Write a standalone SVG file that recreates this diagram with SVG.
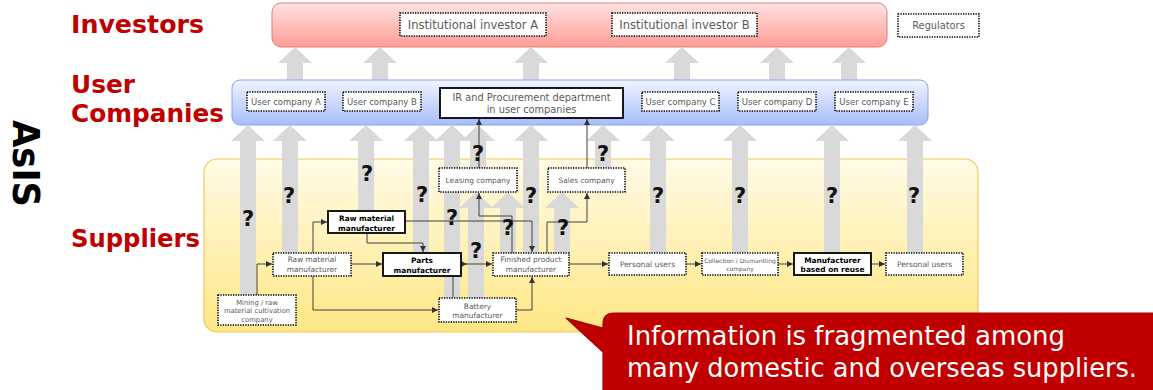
<svg xmlns="http://www.w3.org/2000/svg" width="1153" height="390" viewBox="0 0 1153 390">
  <defs>
    <linearGradient id="gInv" x1="0" y1="0" x2="0" y2="1">
      <stop offset="0" stop-color="#ffe3e2"/>
      <stop offset="1" stop-color="#ff9c96"/>
    </linearGradient>
    <linearGradient id="gUser" x1="0" y1="0" x2="0" y2="1">
      <stop offset="0" stop-color="#f1f4ff"/>
      <stop offset="1" stop-color="#a7bdfb"/>
    </linearGradient>
    <linearGradient id="gSup" x1="0" y1="0" x2="0" y2="1">
      <stop offset="0" stop-color="#fffbe6"/>
      <stop offset="1" stop-color="#ffe785"/>
    </linearGradient>
    <marker id="ah" viewBox="0 0 6 6" refX="6" refY="3" markerWidth="6" markerHeight="6" markerUnits="userSpaceOnUse" orient="auto">
      <path d="M0,0 L6,3 L0,6 Z" fill="#333"/>
    </marker>
  </defs>
  <style>
    .tier { font-family: "DejaVu Sans", sans-serif; font-weight: bold; font-size: 24px; fill: #c00000; }
    .gray { fill: #d9d9d9; }
    .dot { fill: #ffffff; stroke: #000; stroke-width: 1.6; stroke-dasharray: 1.3 1.2; }
    .solid { fill: #ffffff; stroke: #000; stroke-width: 1.8; }
    .t { font-family: "DejaVu Sans", sans-serif; text-anchor: middle; fill: #595959; }
    .tb { font-family: "DejaVu Sans", sans-serif; text-anchor: middle; fill: #000; font-weight: bold; }
    .q { font-family: "DejaVu Sans", sans-serif; font-weight: bold; font-size: 21px; text-anchor: middle; fill: #111; }
    .conn { fill: none; stroke: #404040; stroke-width: 1; marker-end: url(#ah); }
    .call { font-family: "DejaVu Sans", sans-serif; font-size: 26px; fill: #ffffff; }
  </style>

  <!-- tier labels -->
  <g id="labels">
    <text class="tier" x="71" y="33" textLength="133" lengthAdjust="spacingAndGlyphs">Investors</text>
    <text class="tier" x="71" y="93" textLength="64" lengthAdjust="spacingAndGlyphs">User</text>
    <text class="tier" x="71" y="121.5" textLength="153" lengthAdjust="spacingAndGlyphs">Companies</text>
    <text class="tier" x="71" y="247" textLength="129" lengthAdjust="spacingAndGlyphs">Suppliers</text>
    <text transform="translate(13,120) rotate(90)" font-family="DejaVu Sans, sans-serif" font-weight="bold" font-size="38" fill="#000" textLength="87" lengthAdjust="spacingAndGlyphs">AsIS</text>
  </g>

  <!-- tier bands -->
  <g id="bands">
    <rect x="272" y="3" width="615" height="44" rx="9" fill="url(#gInv)" stroke="#e0807a" stroke-width="1"/>
    <rect x="204" y="159" width="774" height="173" rx="13" fill="url(#gSup)" stroke="#f0c85a" stroke-width="1.2"/>
  </g>

  <!-- gray flow arrows: user companies to investors -->
  <g id="flows-top">
    <path class="gray" d="M287,82 V63 H278 L295,47 L312,63 H303 V82 Z"/>
    <path class="gray" d="M372,82 V63 H363 L380,47 L397,63 H388 V82 Z"/>
    <path class="gray" d="M523,82 V63 H514 L531,47 L548,63 H539 V82 Z"/>
    <path class="gray" d="M674,82 V63 H665 L682,47 L699,63 H690 V82 Z"/>
    <path class="gray" d="M769,82 V63 H760 L777,47 L794,63 H785 V82 Z"/>
    <path class="gray" d="M841,82 V63 H832 L849,47 L866,63 H857 V82 Z"/>
  </g>

  <rect id="user-band" x="232" y="80" width="696" height="45" rx="8" fill="url(#gUser)" stroke="#8aa4e6" stroke-width="1"/>

  <!-- gray flow arrows: suppliers to user companies and to sales channels -->
  <g id="flows-sup">
    <path class="gray" d="M240,297 V141 H231 L248,125 L265,141 H256 V297 Z"/>
    <path class="gray" d="M282,255 V141 H273 L290,125 L307,141 H298 V255 Z"/>
    <path class="gray" d="M358,213 V141 H349 L366,125 L383,141 H374 V213 Z"/>
    <path class="gray" d="M413,255 V141 H404 L421,125 L438,141 H429 V255 Z"/>
    <path class="gray" d="M444,300 V141 H435 L452,125 L469,141 H460 V300 Z"/>
    <path class="gray" d="M470,170 V141 H461 L478,125 L495,141 H486 V170 Z"/>
    <path class="gray" d="M523,255 V141 H514 L531,125 L548,141 H539 V255 Z"/>
    <path class="gray" d="M595,170 V141 H586 L603,125 L620,141 H611 V170 Z"/>
    <path class="gray" d="M650,255 V141 H641 L658,125 L675,141 H666 V255 Z"/>
    <path class="gray" d="M732,255 V141 H723 L740,125 L757,141 H748 V255 Z"/>
    <path class="gray" d="M824,255 V141 H815 L832,125 L849,141 H840 V255 Z"/>
    <path class="gray" d="M907,255 V141 H898 L915,125 L932,141 H923 V255 Z"/>
    <path class="gray" d="M468,300 V208 H459 L476,192 L493,208 H484 V300 Z"/>
    <path class="gray" d="M500,255 V208 H491 L508,192 L525,208 H516 V255 Z"/>
    <path class="gray" d="M554,255 V208 H545 L562,192 L579,208 H570 V255 Z"/>
  </g>

  <!-- thin connectors -->
  <g id="connectors">
    <path class="conn" d="M257,295 V264 H272"/>
    <path class="conn" d="M313,253 V222 H327"/>
    <path class="conn" d="M313,276 V310 H438"/>
    <path class="conn" d="M351,264 H382"/>
    <path class="conn" d="M367,233 V243 H423 V252"/>
    <path class="conn" d="M405,221 H532 V252"/>
    <path class="conn" d="M453,297 V264 H467"/>
    <path class="conn" d="M461,264 H492"/>
    <path class="conn" d="M516,310 H532 V277"/>
    <path class="conn" d="M512,253 V216 H479 V193"/>
    <path class="conn" d="M547,253 V222 H587 V193"/>
    <path class="conn" d="M479,168 V119"/>
    <path class="conn" d="M587,168 V119"/>
    <path class="conn" d="M569,264 H608"/>
    <path class="conn" d="M665,264 H701"/>
    <path class="conn" d="M778,264 H793"/>
    <path class="conn" d="M871,264 H885"/>
  </g>

  <!-- investors -->
  <g id="inst-a"><rect class="dot" x="400" y="13" width="146" height="23"/><text class="t" x="473" y="28.5" font-size="11.5" fill="#404040">Institutional investor A</text></g>
  <g id="inst-b"><rect class="dot" x="612" y="13" width="145" height="23"/><text class="t" x="684.5" y="28.5" font-size="11.5" fill="#404040">Institutional investor B</text></g>
  <g id="regulators"><rect class="dot" x="898" y="14" width="81" height="23"/><text class="t" x="938.5" y="29" font-size="9.8" fill="#404040">Regulators</text></g>

  <!-- user companies -->
  <g id="user-a"><rect class="dot" x="247" y="92" width="78" height="19"/><text class="t" x="286" y="104.5" font-size="8.5">User company A</text></g>
  <g id="user-b"><rect class="dot" x="343" y="92" width="78" height="19"/><text class="t" x="382" y="104.5" font-size="8.5">User company B</text></g>
  <g id="ir-dept"><rect class="solid" x="440" y="88" width="183" height="30" stroke-width="1.4"/>
    <text class="t" x="531.5" y="101" font-size="9.8" fill="#333">IR and Procurement department</text>
    <text class="t" x="531.5" y="113" font-size="9.8" fill="#333">in user companies</text></g>
  <g id="user-c"><rect class="dot" x="642" y="92" width="77" height="19"/><text class="t" x="680.5" y="104.5" font-size="8.5">User company C</text></g>
  <g id="user-d"><rect class="dot" x="738" y="92" width="78" height="19"/><text class="t" x="777" y="104.5" font-size="8.5">User company D</text></g>
  <g id="user-e"><rect class="dot" x="835" y="92" width="78" height="19"/><text class="t" x="874" y="104.5" font-size="8.5">User company E</text></g>

  <!-- suppliers -->
  <g id="leasing"><rect class="dot" x="439" y="168" width="78" height="24"/><text class="t" x="478" y="183" font-size="7.4">Leasing company</text></g>
  <g id="sales"><rect class="dot" x="548" y="168" width="77" height="24"/><text class="t" x="586.5" y="183" font-size="7.4">Sales company</text></g>
  <g id="raw-bold"><rect class="solid" x="328" y="211" width="77" height="22"/>
    <text class="tb" x="366.5" y="221" font-size="7.4">Raw material</text>
    <text class="tb" x="366.5" y="230.5" font-size="7.4">manufacturer</text></g>
  <g id="raw-dotted"><rect class="dot" x="273" y="253" width="78" height="23"/>
    <text class="t" x="312" y="262" font-size="7.4">Raw material</text>
    <text class="t" x="312" y="272" font-size="7.4">manufacturer</text></g>
  <g id="parts"><rect class="solid" x="383" y="253" width="78" height="23" stroke-width="2"/>
    <text class="tb" x="422" y="262.5" font-size="7.4">Parts</text>
    <text class="tb" x="422" y="272.5" font-size="7.4">manufacturer</text></g>
  <g id="finished"><rect class="dot" x="493" y="253" width="76" height="23"/>
    <text class="t" x="531" y="262" font-size="7.4">Finished product</text>
    <text class="t" x="531" y="272" font-size="7.4">manufacturer</text></g>
  <g id="battery"><rect class="dot" x="439" y="298" width="77" height="24"/>
    <text class="t" x="477.5" y="308.5" font-size="7.4">Battery</text>
    <text class="t" x="477.5" y="318" font-size="7.4">manufacturer</text></g>
  <g id="mining"><rect class="dot" x="218" y="295" width="78" height="30"/>
    <text class="t" x="257" y="304.5" font-size="6.8">Mining / raw</text>
    <text class="t" x="257" y="313" font-size="6.8">material cultivation</text>
    <text class="t" x="257" y="321.5" font-size="6.8">company</text></g>
  <g id="personal-1"><rect class="dot" x="609" y="253" width="77" height="22"/><text class="t" x="647.5" y="267" font-size="7.6">Personal users</text></g>
  <g id="collection"><rect class="dot" x="702" y="253" width="76" height="22"/>
    <text class="t" x="740" y="262.5" font-size="6">Collection / Dismantling</text>
    <text class="t" x="740" y="270.5" font-size="6">company</text></g>
  <g id="reuse"><rect class="solid" x="794" y="253" width="77" height="22" stroke-width="2"/>
    <text class="tb" x="832.5" y="262.5" font-size="7.4">Manufacturer</text>
    <text class="tb" x="832.5" y="272" font-size="7.4">based on reuse</text></g>
  <g id="personal-2"><rect class="dot" x="886" y="253" width="77" height="22"/><text class="t" x="924.5" y="267" font-size="7.6">Personal users</text></g>

  <!-- unknown information flows -->
  <g id="marks">
    <text class="q" x="248" y="226">?</text>
    <text class="q" x="289" y="203">?</text>
    <text class="q" x="367" y="181">?</text>
    <text class="q" x="422" y="202">?</text>
    <text class="q" x="478" y="161">?</text>
    <text class="q" x="531" y="203">?</text>
    <text class="q" x="603" y="161">?</text>
    <text class="q" x="658" y="203">?</text>
    <text class="q" x="740" y="203">?</text>
    <text class="q" x="832" y="203">?</text>
    <text class="q" x="914" y="203">?</text>
    <text class="q" x="452" y="225">?</text>
    <text class="q" x="508" y="235">?</text>
    <text class="q" x="476" y="258">?</text>
    <text class="q" x="563" y="235">?</text>
  </g>

  <!-- callout -->
  <g id="callout">
    <path d="M614,313 H1160 V395 H603 V352 L566,318 L603,328 V324 Q603,313 614,313 Z" fill="#c00000" stroke="#a50000" stroke-width="1.2"/>
    <text class="call" x="627" y="345" textLength="438" lengthAdjust="spacingAndGlyphs">Information is fragmented among</text>
    <text class="call" x="627" y="377" textLength="510" lengthAdjust="spacingAndGlyphs">many domestic and overseas suppliers.</text>
  </g>
</svg>
